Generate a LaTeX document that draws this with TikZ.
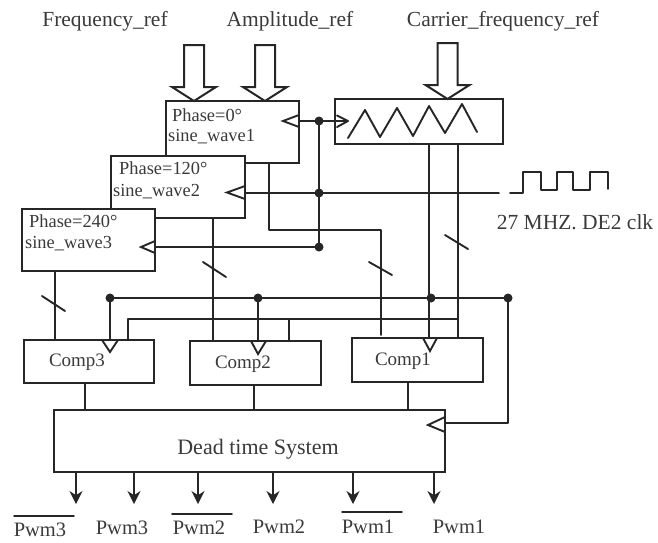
\documentclass[tikz,border=0pt]{standalone}
\usepackage{fontspec}
\setmainfont{Liberation Serif}
\usetikzlibrary{arrows.meta}
\definecolor{ink}{HTML}{262626}
\definecolor{txt}{HTML}{3A3A3A}
\tikzset{
  wire/.style={draw=ink,line width=1.9pt,line cap=round,line join=round},
  blockbox/.style={draw=ink,line width=2pt,fill=white,inner sep=0pt,minimum width=#1},
  blockbox/.default=133pt,
  lab/.style={text=txt,inner sep=0pt,font=\fontsize{21.5}{23}\selectfont},
  boxlab/.style={text=txt,inner sep=0pt,font=\fontsize{18.4}{20}\selectfont},
  complab/.style={text=txt,inner sep=0pt,font=\fontsize{19}{21}\selectfont},
  pwmlab/.style={text=txt,inner sep=0pt,font=\fontsize{20.5}{22}\selectfont},
  pin/.style={draw=ink,line width=1.9pt,fill=white,line join=miter},
  fat/.style={draw=ink,line width=2pt,fill=white,line join=miter},
  dot/.style={circle,fill=ink,draw=none,minimum size=9pt,inner sep=0pt},
  tip/.style={wire,-{Stealth[length=13pt,width=13pt]}},
  slash/.style={wire}
}
\newcommand{\fatarrow}[3]{\draw[fat] (#1-10,#2) -- (#1+10,#2) -- (#1+10,#3-14) -- (#1+22,#3-14) -- (#1,#3) -- (#1-22,#3-14) -- (#1-10,#3-14) -- cycle;}
\begin{document}
\begin{tikzpicture}[x=1pt,y=-1pt]
\useasboundingbox (0,0) rectangle (658,542);
% blocks
\node[blockbox,minimum height=62pt] (s1) at (232.5,132) {};
\node[blockbox=134pt,minimum height=62pt] (s2) at (178,187) {};
\node[blockbox,minimum height=62pt] (s3) at (88.5,240) {};
\node[blockbox=168pt,minimum height=45pt] (saw) at (419,121.5) {};
\node[blockbox=130pt,minimum height=43pt] (c3) at (89,361.5) {};
\node[blockbox=131pt,minimum height=44pt] (c2) at (255.5,363) {};
\node[blockbox=131pt,minimum height=44pt] (c1) at (417.5,360) {};
\node[blockbox=391pt,minimum height=62pt] (dt) at (249.5,441) {};
% texts
\node[lab] (t1) at (105,21) {Frequency\_ref};
\node[lab] (t2) at (290,21) {Amplitude\_ref};
\node[lab] (t3) at (503,21) {Carrier\_frequency\_ref};
\node[lab] (t4) at (575,222) {27 MHZ. DE2 clk};
\node[boxlab,anchor=west] (p1) at (172,115) {Phase=0°};
\node[boxlab,anchor=west] (w1) at (168,137) {sine\_wave1};
\node[boxlab,anchor=west] (p2) at (119,168) {Phase=120°};
\node[boxlab,anchor=west] (w2) at (113,192) {sine\_wave2};
\node[boxlab,anchor=west] (p3) at (29,221) {Phase=240°};
\node[boxlab,anchor=west] (w3) at (25,244) {sine\_wave3};
\node[complab] (lc3) at (77,362) {Comp3};
\node[complab] (lc2) at (243,364) {Comp2};
\node[complab] (lc1) at (403,361) {Comp1};
\node[lab,font=\fontsize{22}{24}\selectfont] (ld) at (258,449) {Dead time System};
\node[pwmlab] (o1) at (40,530) {Pwm3};
\node[pwmlab] (o2) at (122,528) {Pwm3};
\node[pwmlab] (o3) at (199,528) {Pwm2};
\node[pwmlab] (o4) at (279,527) {Pwm2};
\node[pwmlab] (o5) at (368,527) {Pwm1};
\node[pwmlab] (o6) at (459,527) {Pwm1};
% overbars
\draw[wire] (14,516) -- (74,516);
\draw[wire] (172,514) -- (232,514);
\draw[wire] (342,512) -- (402,512);
% fat arrows
\fatarrow{194}{45}{101}
\fatarrow{265}{45}{101}
\fatarrow{447.5}{43}{99}
% saw wave
\draw[wire] (348,138) -- (365,110) -- (380,137) -- (397,108) -- (413,136) -- (429,106) -- (445,133) -- (462,104) -- (477,132);
% clock wave
\coordinate (clkin) at (499,193);
\draw[wire] (510,193) -- (523,193) -- (523,172) -- (541,172) -- (541,190) -- (557,190) -- (557,172) -- (573,172) -- (573,190) -- (590,190) -- (590,172) -- (608,172) -- (608,189);
% junctions
\coordinate (j1) at (319,121);
\coordinate (j2) at (319,193);
\coordinate (j3) at (319,247);
\coordinate (ck1) at (s1.east |- j1);
\coordinate (ck2) at (s2.east |- j2);
\coordinate (ck3) at (s3.east |- j3);
\coordinate (sawin) at (347,121);
\draw[wire] (ck1) -- (j1) -- (sawin);
\draw[wire] (337,115.5) -- (348,121) -- (337,127);
\draw[wire] (ck2) -- (clkin);
\draw[wire] (ck3) -- (j3);
\draw[wire] (j1) -- (j3);
% sine outputs
\coordinate (b1) at (269,230);
\coordinate (b1r) at (381,230);
\draw[wire] (s1.south -| b1) -- (b1) -- (b1r) -- (381,335);
\draw[wire] (213,218) -- (213,341);
\draw[wire] (s3.south -| 55,0) -- (55,340);
% carrier outputs
\draw[wire] (429,144) -- (429,338);
\draw[wire] (458,144) -- (458,338);
% buses
\coordinate (n1) at (110,298);
\coordinate (n2) at (258,298);
\coordinate (n3) at (431,298);
\coordinate (n4) at (508,298);
\draw[wire] (n1) -- (n2) -- (n3) -- (n4);
\draw[wire] (n1) -- (110,340);
\draw[wire] (n2) -- (258,341);
\draw[wire] (n4) -- (508,423) -- (445,423);
\draw[wire] (128,340) -- (128,319) -- (458,319);
\draw[wire] (289,319) -- (289,341);
% slashes
\draw[slash] (369,262) -- (392,275);
\draw[slash] (203,262) -- (226,277);
\draw[slash] (42,296) -- (65,311);
\draw[slash] (445,235) -- (468,249);
% comp outputs
\draw[wire] (c3.south -| 85,0) -- (dt.north -| 85,0);
\draw[wire] (c2.south -| 254,0) -- (dt.north -| 254,0);
\draw[wire] (c1.south -| 408,0) -- (dt.north -| 408,0);
% pwm arrows
\foreach \x in {76,134,198,273,353,434} \draw[tip] (\x,472) -- (\x,504);
% clock pins
\draw[pin] (299,115) -- (283,121) -- (299,127) -- cycle;
\draw[pin] (245,186) -- (227,192.5) -- (245,199) -- cycle;
\draw[pin] (155,241) -- (141,247) -- (155,253) -- cycle;
\draw[pin] (445,417) -- (428,425) -- (445,432) -- cycle;
\draw[pin] (102,340) -- (110,352) -- (118,340) -- cycle;
\draw[pin] (251,341) -- (258,354) -- (266,341) -- cycle;
\draw[pin] (423,338) -- (430,351) -- (437,338) -- cycle;
% dots
\node[dot] (d1) at (j1) {};
\node[dot] (d2) at (j2) {};
\node[dot] (d3) at (j3) {};
\node[dot] (d4) at (n1) {};
\node[dot] (d5) at (n2) {};
\node[dot] (d6) at (n3) {};
\node[dot] (d7) at (n4) {};
\end{tikzpicture}
\end{document}
